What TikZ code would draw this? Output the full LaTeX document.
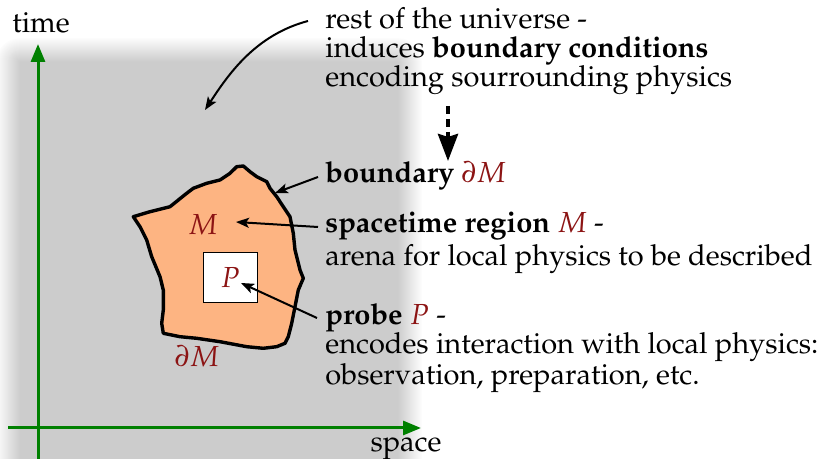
\documentclass[tikz,border=0pt]{standalone}
\usepackage[T1]{fontenc}
\usepackage{mathpazo}
\usetikzlibrary{arrows.meta}
\definecolor{axgreen}{RGB}{0,128,0}
\definecolor{region}{RGB}{253,180,130}
\definecolor{dred}{RGB}{140,20,20}
\begin{document}
\begin{tikzpicture}[x=0.5pt,y=-0.5pt,
  txt/.style={font=\fontsize{14.5}{14.5}\selectfont, inner sep=0pt, align=left, anchor=base west},
  axlab/.style={font=\fontsize{14.5}{14.5}\selectfont, inner sep=0pt, anchor=base},
  axis/.style={axgreen, line width=1.5pt, -{Triangle[length=9pt,width=7pt]}},
  ptr/.style={line width=1pt, -{Stealth[length=6.5pt,width=5pt,inset=1.5pt]}},
  mlab/.style={text=dred, font=\fontsize{14.5}{14.5}\selectfont, inner sep=0pt},
  blob/.style={fill=region, draw=black, line width=1.7pt, line join=round},
  probebox/.style={draw, fill=white, line width=0.6pt, minimum width=27pt, minimum height=25pt, inner sep=0pt, text=dred, font=\fontsize{14.5}{14.5}\selectfont}]
\useasboundingbox (0,0) rectangle (821,459);
\begin{scope}
\clip (0,0) rectangle (821,459);
\foreach \i in {0,...,24}{
  \pgfmathsetmacro\c{20*(\i+1)/25}
  \pgfmathsetmacro\r{(24-\i)*0.5+0.01}
  \fill[black!\c, rounded corners=\r pt] (20-24+\i,62-24+\i) rectangle (392+30-\i,490);
}
\end{scope}
% axes
\coordinate (yb) at (38,459);
\coordinate (yt) at (38,44);
\coordinate (xl) at (8,428);
\coordinate (xr) at (421,428);
\draw[axis] (yb) -- (yt);
\draw[axis] (xl) -- (xr);
\node[axlab] (time) at (41,33) {time};
\node[axlab] (space) at (406,452) {space};
% region
\draw[blob] (133.3,216.7) -- (150,211.7) -- (170,206.7) -- (186.7,193.3) -- (193.3,188.3) -- (206.7,183.3) -- (220,180) -- (230,173.3) -- (236.7,166.7) -- (243.3,166) -- (250,171.7) -- (256.7,176.7) -- (266.7,181.7) -- (270,188.3) -- (276.7,196.7) -- (283.3,206.7) -- (290,216.7) -- (293.3,233.3) -- (295,250) -- (300,270) -- (303.3,278.3) -- (298.3,290) -- (295,306.7) -- (291.7,323.3) -- (288.3,336.7) -- (285,343.3) -- (276.7,346.7) -- (263.3,348.3) -- (246.7,346.7) -- (220,341.7) -- (196.7,338.3) -- (180,336.7) -- (163.3,333.3) -- (161.7,323.3) -- (163.3,310) -- (163.3,290) -- (160,276.7) -- (151.7,256.7) -- (146.7,240) -- (140,226.7) -- cycle;
\node[probebox] (P) at (230.3,277.7) {$P$};
\node[mlab] (Mlab) at (203,225) {$M$};
\node[mlab] (dMlab) at (197,356) {$\partial M$};
% texts
\node[txt] (rest) at (325,87) {rest of the universe -\\ induces \textbf{boundary conditions}\\ encoding sourrounding physics};
\node[txt] (bnd) at (325,183) {\textbf{boundary} \textcolor{dred}{$\partial M$}};
\node[txt] (reg) at (325,266) {\textbf{spacetime region} \textcolor{dred}{$M$} -\\[2pt] arena for local physics to be described};
\node[txt] (prb) at (325,385) {\textbf{probe} \textcolor{dred}{$P$} -\\ encodes interaction with local physics:\\ observation, preparation, etc.};
% pointers
\coordinate (a1s) at (308,21);
\coordinate (a1e) at (205,110);
\draw[ptr] (a1s) .. controls (255,35) and (228,75) .. (a1e);
\coordinate (dbs) at (448,106);
\coordinate (dbe) at (448,161);
\draw[line width=2pt, dash pattern=on 4pt off 2.5pt, -{Stealth[length=13.5pt,width=10pt,inset=1.5pt]}] (dbs) -- (dbe);
\coordinate (b1s) at (318,177);
\coordinate (b1e) at (275,193);
\draw[ptr] (b1s) -- (b1e);
\coordinate (r1s) at (318,227);
\coordinate (r1e) at (236,222);
\draw[ptr] (r1s) -- (r1e);
\coordinate (p1s) at (317,318);
\coordinate (p1e) at (241,283);
\draw[ptr] (p1s) -- (p1e);
\end{tikzpicture}
\end{document}
